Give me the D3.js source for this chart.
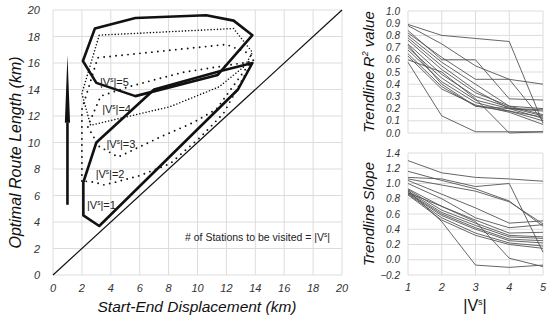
<!DOCTYPE html>
<html><head><meta charset="utf-8">
<script src="https://cdn.jsdelivr.net/npm/d3@7"></script>
<style>body{margin:0;background:#fff}svg{display:block;font-family:"Liberation Sans",Arial,sans-serif}</style>
</head><body><svg id="c" width="550" height="323"></svg>
<script>
// ---- Main chart data (km) ----
const mainTicks = [0,2,4,6,8,10,12,14,16,18,20];
const polyV1 = [[3.2,3.7],[2.1,4.5],[2.1,7.0],[3.0,10.0],[7.0,14.0],[11.6,15.4],[13.8,16.0],[12.8,14.0]];
const polyV2 = [[2.0,7.1],[2.0,12.5],[3.1,16.4],[12.0,17.4],[13.6,16.7],[13.9,16.3],[11.8,12.2],[10.2,10.4],[8.1,8.4],[6.0,7.5],[4.3,7.0],[3.5,6.8],[2.9,7.0]];
const polyV3 = [[3.2,9.7],[4.5,8.9],[7.4,10.4],[9.7,11.5],[11.3,12.5],[13.7,16.1],[9.0,15.3],[5.2,14.2],[3.3,13.5],[2.4,11.2]];
const polyV4 = [[3.2,18.1],[12.5,18.6],[13.8,16.8],[13.3,15.8],[11.5,14.2],[8.1,12.7],[2.6,11.3],[2.0,13.7]];
const polyV5 = [[2.9,18.6],[5.7,19.4],[10.6,19.6],[12.5,19.2],[13.8,18.1],[11.4,15.1],[5.7,13.5],[3.0,14.5],[2.07,16.15]];
const labelNames = ["1","2","3","4","5"];
const labelPos = [[2.35,5.3],[2.95,7.6],[3.7,9.9],[3.4,12.5],[3.25,14.6]];
const arrowPts = [[1.0,5.3],[1.0,11.5],[1.0,16.6]];

// ---- Right charts data ----
const vsCats = [1,2,3,4,5];
const r2Ticks = [0.0,0.1,0.2,0.3,0.4,0.5,0.6,0.7,0.8,0.9,1.0];
const slopeTicks = [-0.2,0.0,0.2,0.4,0.6,0.8,1.0,1.2,1.4];
const r2Series = [
  [0.89,0.80,0.775,0.75,0.08],
  [0.88,0.73,0.55,0.44,0.10],
  [0.84,0.60,0.60,0.28,0.27],
  [0.82,0.62,0.44,0.44,0.40],
  [0.80,0.58,0.40,0.22,0.20],
  [0.78,0.55,0.35,0.20,0.18],
  [0.76,0.52,0.33,0.22,0.15],
  [0.73,0.48,0.30,0.21,0.14],
  [0.72,0.40,0.22,0.18,0.10],
  [0.70,0.45,0.27,0.20,0.19],
  [0.68,0.42,0.25,0.18,0.13],
  [0.65,0.38,0.22,0.20,0.12],
  [0.63,0.36,0.23,0.17,0.07],
  [0.60,0.50,0.28,0.00,0.01],
  [0.58,0.14,0.01,0.01,0.01]
];
const slopeSeries = [
  [1.30,1.14,1.08,1.06,1.03],
  [1.16,1.04,0.93,0.77,0.44],
  [1.08,1.06,0.96,1.00,0.10],
  [1.06,0.98,0.90,0.76,0.47],
  [1.04,0.86,0.68,0.48,0.51],
  [1.00,0.80,0.55,0.42,0.46],
  [0.93,0.70,0.52,0.35,0.36],
  [0.92,0.65,0.48,0.32,0.30],
  [0.90,0.62,0.45,0.30,0.28],
  [0.88,0.60,0.42,0.27,0.25],
  [0.87,0.58,0.40,0.25,0.22],
  [0.86,0.55,0.35,0.22,0.18],
  [0.85,0.52,0.32,0.20,0.15],
  [0.91,0.50,-0.07,-0.10,-0.07],
  [0.88,0.70,0.50,0.02,-0.09]
];

const svg = d3.select("#c");
const grid = "#dcdcdc";
const ink = "#111";

// ===== Main chart =====
const x = d3.scaleLinear().domain([0,20]).range([53,342]);
const y = d3.scaleLinear().domain([0,20]).range([275,10]);
const g = svg.append("g");
g.selectAll("line.gx").data(mainTicks).join("line")
  .attr("x1",d=>x(d)).attr("x2",d=>x(d)).attr("y1",y(0)).attr("y2",y(20))
  .attr("stroke",grid).attr("stroke-width",1);
g.selectAll("line.gy").data(mainTicks).join("line")
  .attr("y1",d=>y(d)).attr("y2",d=>y(d)).attr("x1",x(0)).attr("x2",x(20))
  .attr("stroke",grid).attr("stroke-width",1);
g.selectAll("text.tx").data(mainTicks).join("text")
  .attr("x",d=>x(d)).attr("y",292).attr("text-anchor","middle")
  .attr("font-size",11).attr("font-style","italic").attr("fill","#333").text(d=>d);
g.selectAll("text.ty").data(mainTicks).join("text")
  .attr("x",40).attr("y",d=>y(d)+4).attr("text-anchor","end")
  .attr("font-size",11).attr("font-style","italic").attr("fill","#333").text(d=>d);
g.append("text").attr("x",197).attr("y",312).attr("text-anchor","middle")
  .attr("font-size",15.5).attr("font-style","italic").attr("fill",ink).text("Start-End Displacement (km)");
g.append("text").attr("transform",`translate(21,${(y(0)+y(20))/2+10}) rotate(-90)`).attr("text-anchor","middle")
  .attr("font-size",16).attr("font-style","italic").attr("fill",ink).text("Optimal Route Length (km)");

// diagonal y=x
g.append("line").attr("x1",x(0)).attr("y1",y(0)).attr("x2",x(20)).attr("y2",y(20))
  .attr("stroke",ink).attr("stroke-width",1.2);

const line = d3.line().x(d=>x(d[0])).y(d=>y(d[1])).curve(d3.curveLinearClosed);
function poly(pts, style){
  const p = g.append("path").attr("d",line(pts)).attr("fill","none").attr("stroke",ink)
    .attr("stroke-linejoin","round");
  if(style==="solid") p.attr("stroke-width",2.6);
  else if(style==="fine") p.attr("stroke-width",1.6).attr("stroke-dasharray","0,3.2").attr("stroke-linecap","round");
  else p.attr("stroke-width",1.9).attr("stroke-dasharray","0,6").attr("stroke-linecap","round");
}
poly(polyV2,"coarse");
poly(polyV3,"coarse");
poly(polyV4,"fine");
poly(polyV1,"solid");
poly(polyV5,"solid");

// labels |V^s|=k
labelNames.forEach((n,i)=>{
  const t = g.append("text").attr("x",x(labelPos[i][0])).attr("y",y(labelPos[i][1])+4)
    .attr("font-size",11).attr("fill","#222");
  t.append("tspan").text("|V");
  t.append("tspan").attr("font-size",6.5).attr("dy",-4).text("s");
  t.append("tspan").attr("dy",4).text("|="+n);
});

// arrow
const ax = x(arrowPts[0][0]);
g.append("line").attr("x1",ax).attr("x2",ax).attr("y1",y(arrowPts[0][1])).attr("y2",y(arrowPts[1][1]))
  .attr("stroke",ink).attr("stroke-width",2.6);
g.append("path").attr("d",`M${ax-2.6},${y(arrowPts[1][1])}L${ax},${y(arrowPts[2][1])}L${ax+2.6},${y(arrowPts[1][1])}Z`)
  .attr("fill",ink);

// note
const note = g.append("text").attr("x",185).attr("y",241).attr("font-size",10.5).attr("fill","#222");
note.append("tspan").text("# of Stations to be visited = |V");
note.append("tspan").attr("font-size",6.5).attr("dy",-4).text("s");
note.append("tspan").attr("dy",4).text("|");

// ===== Right charts =====
const rx = d3.scaleLinear().domain([1,5]).range([408,543]);
function panel(series, ticks, yDom, y0, y1, title, showX){
  const ys = d3.scaleLinear().domain(yDom).range([y1,y0]);
  const pg = svg.append("g");
  pg.selectAll("line.h").data(ticks).join("line")
    .attr("x1",rx(1)).attr("x2",rx(5)).attr("y1",d=>ys(d)).attr("y2",d=>ys(d))
    .attr("stroke",grid);
  pg.selectAll("line.v").data(vsCats).join("line")
    .attr("x1",d=>rx(d)).attr("x2",d=>rx(d)).attr("y1",y0).attr("y2",y1)
    .attr("stroke",grid);
  pg.selectAll("text.t").data(ticks).join("text")
    .attr("x",400).attr("y",d=>ys(d)+3.5).attr("text-anchor","end")
    .attr("font-size",10).attr("font-style","italic").attr("fill","#333")
    .text(d=>d3.format(".1f")(d));
  const ln = d3.line().x((d,i)=>rx(vsCats[i])).y(d=>ys(d));
  pg.selectAll("path.s").data(series).join("path")
    .attr("d",ln).attr("fill","none").attr("stroke","#555").attr("stroke-width",0.9);
  pg.append("text").attr("transform",`translate(374,${(y0+y1)/2}) rotate(-90)`).attr("text-anchor","middle")
    .attr("font-size",15).attr("font-style","italic").attr("fill",ink).call(title);
  if(showX){
    pg.selectAll("text.x").data(vsCats).join("text")
      .attr("x",d=>rx(d)).attr("y",291).attr("text-anchor","middle")
      .attr("font-size",11).attr("font-style","italic").attr("fill","#333").text(d=>d);
  }
}
panel(r2Series, r2Ticks, [0,1], 11, 133, t=>{
  t.append("tspan").text("Trendline R");
  t.append("tspan").attr("font-size",9).attr("dy",-6).text("2");
  t.append("tspan").attr("dy",6).text(" value");
}, false);
panel(slopeSeries, slopeTicks, [-0.2,1.4], 153, 275, t=>t.text("Trendline Slope"), true);

const xt = svg.append("text").attr("x",475).attr("y",311).attr("text-anchor","middle")
  .attr("font-size",16).attr("fill",ink);
xt.append("tspan").text("|V");
xt.append("tspan").attr("font-size",9).attr("dy",-6).text("s");
xt.append("tspan").attr("dy",6).text("|");
</script></body></html>
